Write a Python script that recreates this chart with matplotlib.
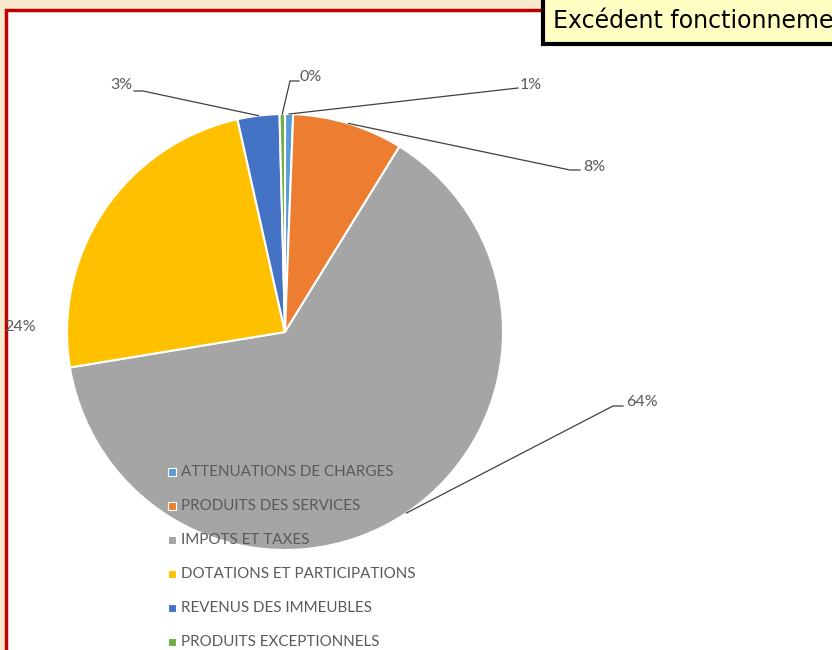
import matplotlib.pyplot as plt
import numpy as np
from matplotlib.patches import Rectangle

W, H = 832, 650

categories = ["ATTENUATIONS DE CHARGES", "PRODUITS DES SERVICES", "IMPOTS ET TAXES",
              "DOTATIONS ET PARTICIPATIONS", "REVENUS DES IMMEUBLES", "PRODUITS EXCEPTIONNELS"]
values = [0.6, 8.2, 63.6, 24.1, 3.1, 0.4]
colors = ["#5B9BD5", "#ED7D31", "#A5A5A5", "#FFC000", "#4472C4", "#70AD47"]
title = "Excédent fonctionnement"

# label text position (image px), alignment, leader elbow points
label_pos = [(520, 85, "left", [(518, 88)]),
             (583, 167, "left", [(570, 170), (580, 170)]),
             (626, 402, "left", [(613, 406), (623, 406)]),
             (4, 327, "left", []),
             (132, 85, "right", [(143, 91), (134, 91)]),
             (300, 77, "left", [(290, 81), (299, 81)])]


def Y(y):
    return H - y


fig = plt.figure(figsize=(W / 100, H / 100), dpi=100)
fig.patch.set_facecolor("#F8E8CC")
ax = fig.add_axes([0, 0, 1, 1])

# white panel with red frame
ax.add_patch(Rectangle((6, Y(700)), 900, 700 - 10, facecolor="white",
                       edgecolor="#C00000", linewidth=2.5, zorder=0))

cx, cy, r = 285, Y(332), 218
wedges, _ = ax.pie(values, colors=colors, startangle=90, counterclock=False,
                   center=(cx, cy), radius=r,
                   wedgeprops=dict(edgecolor="white", linewidth=1.5))

total = sum(values)
for w, v, (tx, ty, ha, elbow) in zip(wedges, values, label_pos):
    pct = "{:.0f}%".format(round(v / total * 100 + 1e-9))
    ax.text(tx, Y(ty), pct, ha=ha, va="center", fontsize=11.5,
            color="#595959", family="Lato")
    if elbow:
        a = np.deg2rad((w.theta1 + w.theta2) / 2)
        xs = [cx + r * np.cos(a)] + [p[0] for p in elbow]
        ys = [cy + r * np.sin(a)] + [Y(p[1]) for p in elbow]
        ax.plot(xs, ys, color="#404040", linewidth=0.9)

# legend
for i, (name, col) in enumerate(zip(categories, colors)):
    yy = Y(472 + 34 * i)
    ax.scatter([172], [yy], marker="s", s=34, color=col, edgecolor="white",
               linewidth=0.8, zorder=5)
    ax.text(181, yy, name, ha="left", va="center", fontsize=10.9,
            color="#595959", family="Lato", zorder=5)

# title box
ax.add_patch(Rectangle((543, Y(44)), 400, 60, facecolor="#FFFFC4",
                       edgecolor="black", linewidth=3, zorder=6))
ax.text(553, Y(21), title, ha="left", va="center", fontsize=17,
        color="black", family="DejaVu Sans", zorder=7)

ax.set_xlim(0, W)
ax.set_ylim(0, H)
ax.set_aspect("equal")
ax.axis("off")

fig.savefig("out.png", dpi=100, facecolor=fig.get_facecolor())
